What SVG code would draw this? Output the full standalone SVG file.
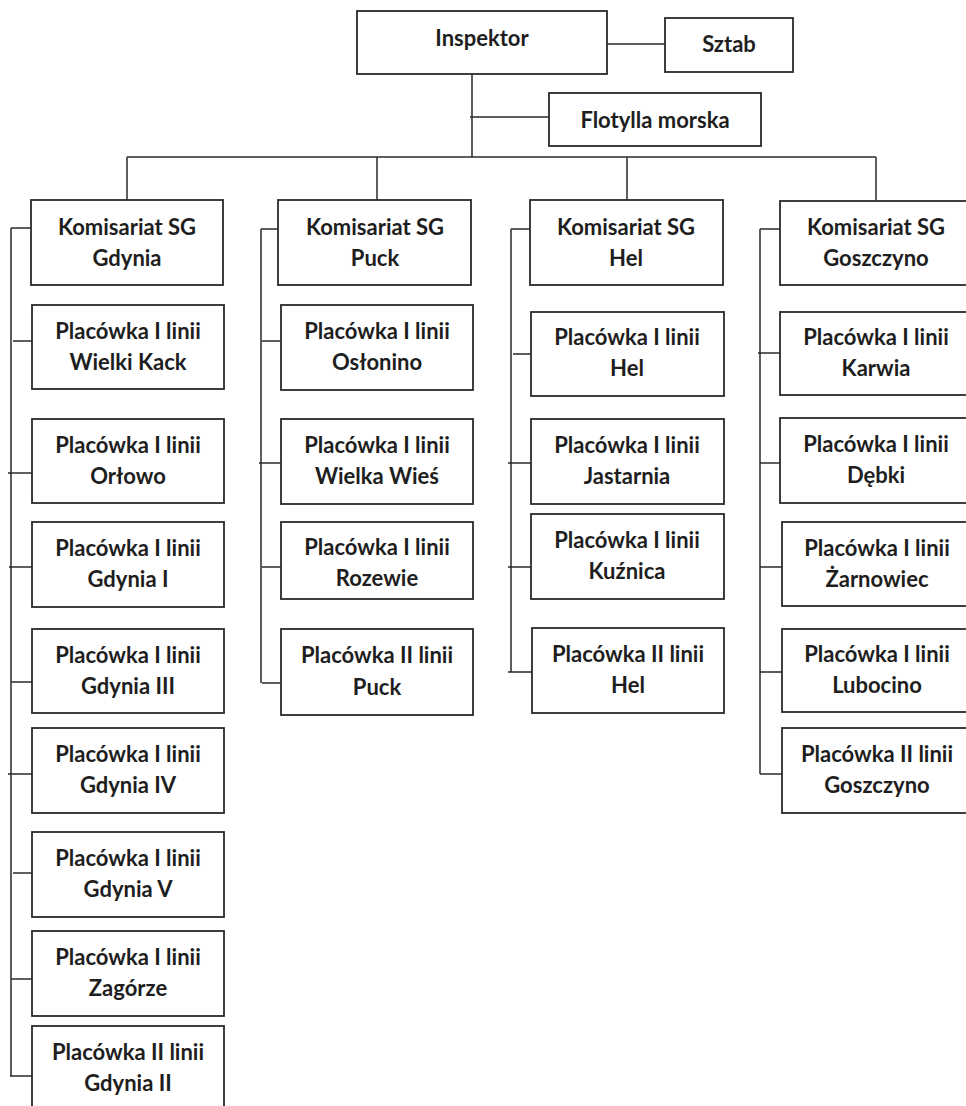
<svg xmlns="http://www.w3.org/2000/svg" width="966" height="1106" viewBox="0 0 966 1106">
<style>
.box{fill:#fff;stroke:#2a2a2a;stroke-width:1.8}
.ln{stroke:#2a2a2a;stroke-width:1.5;fill:none}
.t{font-family:Lato,"Open Sans",sans-serif;font-weight:700;font-size:22px;fill:#1e1e1e;text-anchor:middle}
</style>
<rect width="966" height="1106" fill="#fff"/>
<g id="connectors">
<path class="ln" d="M472 52V157M607 44H665M470 117H549M127 157H876M127 157V200M377 157V200M627 157V200M876 157V200"/>
<path class="ln" d="M11 228V1076M11 228H31M13 341H32M8 473H32M9 567H32M11 682H32M8 774H32M13 873H32M11 979H32M10 1076H32"/>
<path class="ln" d="M261 229V683M261 229H278M262 341H281M259 463H281M262 567H281M262 683H281"/>
<path class="ln" d="M511 229V672M511 229H530M513 354H531M508 463H531M508 567H531M508 672H532"/>
<path class="ln" d="M760 229V774M760 229H780M758 353H780M760 463H780M760 567H782M760 672H782M760 774H782"/>
</g>
<g id="inspektor"><rect class="box" x="357" y="11" width="250" height="63"/><text class="t" x="482" y="46">Inspektor</text></g>
<g id="sztab"><rect class="box" x="665" y="18" width="128" height="54"/><text class="t" x="729" y="52">Sztab</text></g>
<g id="flotylla"><rect class="box" x="549" y="93" width="212" height="53"/><text class="t" x="655" y="128">Flotylla morska</text></g>

<g id="kom-gdynia"><rect class="box" x="31" y="200" width="192" height="85"/><text class="t" x="127" y="235">Komisariat SG</text><text class="t" x="127" y="266">Gdynia</text></g>
<g id="p-wielki-kack"><rect class="box" x="32" y="305" width="192" height="84"/><text class="t" x="128" y="339">Placówka I linii</text><text class="t" x="128" y="370">Wielki Kack</text></g>
<g id="p-orlowo"><rect class="box" x="32" y="419" width="192" height="84"/><text class="t" x="128" y="453">Placówka I linii</text><text class="t" x="128" y="484">Orłowo</text></g>
<g id="p-gdynia-1"><rect class="box" x="32" y="522" width="192" height="85"/><text class="t" x="128" y="556">Placówka I linii</text><text class="t" x="128" y="587">Gdynia I</text></g>
<g id="p-gdynia-3"><rect class="box" x="32" y="629" width="192" height="84"/><text class="t" x="128" y="663">Placówka I linii</text><text class="t" x="128" y="694">Gdynia III</text></g>
<g id="p-gdynia-4"><rect class="box" x="32" y="728" width="192" height="85"/><text class="t" x="128" y="762">Placówka I linii</text><text class="t" x="128" y="793">Gdynia IV</text></g>
<g id="p-gdynia-5"><rect class="box" x="32" y="832" width="192" height="85"/><text class="t" x="128" y="866">Placówka I linii</text><text class="t" x="128" y="897">Gdynia V</text></g>
<g id="p-zagorze"><rect class="box" x="32" y="931" width="192" height="85"/><text class="t" x="128" y="965">Placówka I linii</text><text class="t" x="128" y="996">Zagórze</text></g>
<g id="p2-gdynia-2"><rect class="box" x="32" y="1026" width="192" height="100"/><text class="t" x="128" y="1060">Placówka II linii</text><text class="t" x="128" y="1091">Gdynia II</text></g>

<g id="kom-puck"><rect class="box" x="278" y="200" width="193" height="85"/><text class="t" x="375" y="235">Komisariat SG</text><text class="t" x="375" y="266">Puck</text></g>
<g id="p-oslonino"><rect class="box" x="281" y="305" width="192" height="85"/><text class="t" x="377" y="339">Placówka I linii</text><text class="t" x="377" y="370">Osłonino</text></g>
<g id="p-wielka-wies"><rect class="box" x="281" y="419" width="192" height="85"/><text class="t" x="377" y="453">Placówka I linii</text><text class="t" x="377" y="484">Wielka Wieś</text></g>
<g id="p-rozewie"><rect class="box" x="281" y="522" width="192" height="77"/><text class="t" x="377" y="555">Placówka I linii</text><text class="t" x="377" y="586">Rozewie</text></g>
<g id="p2-puck"><rect class="box" x="281" y="629" width="192" height="86"/><text class="t" x="377" y="663">Placówka II linii</text><text class="t" x="377" y="695">Puck</text></g>

<g id="kom-hel"><rect class="box" x="530" y="200" width="193" height="85"/><text class="t" x="626" y="235">Komisariat SG</text><text class="t" x="626" y="266">Hel</text></g>
<g id="p-hel"><rect class="box" x="531" y="312" width="193" height="84"/><text class="t" x="627" y="345">Placówka I linii</text><text class="t" x="627" y="376">Hel</text></g>
<g id="p-jastarnia"><rect class="box" x="531" y="419" width="193" height="85"/><text class="t" x="627" y="453">Placówka I linii</text><text class="t" x="627" y="484">Jastarnia</text></g>
<g id="p-kuznica"><rect class="box" x="531" y="514" width="193" height="85"/><text class="t" x="627" y="548">Placówka I linii</text><text class="t" x="627" y="579">Kuźnica</text></g>
<g id="p2-hel"><rect class="box" x="532" y="628" width="192" height="85"/><text class="t" x="628" y="662">Placówka II linii</text><text class="t" x="628" y="693">Hel</text></g>

<g id="kom-goszczyno"><rect class="box" x="780" y="201" width="194" height="84"/><text class="t" x="876" y="235">Komisariat SG</text><text class="t" x="876" y="266">Goszczyno</text></g>
<g id="p-karwia"><rect class="box" x="780" y="312" width="194" height="83"/><text class="t" x="876" y="345">Placówka I linii</text><text class="t" x="876" y="376">Karwia</text></g>
<g id="p-debki"><rect class="box" x="780" y="418" width="194" height="85"/><text class="t" x="876" y="452">Placówka I linii</text><text class="t" x="876" y="483">Dębki</text></g>
<g id="p-zarnowiec"><rect class="box" x="782" y="522" width="192" height="84"/><text class="t" x="877" y="556">Placówka I linii</text><text class="t" x="877" y="587">Żarnowiec</text></g>
<g id="p-lubocino"><rect class="box" x="782" y="629" width="192" height="83"/><text class="t" x="877" y="662">Placówka I linii</text><text class="t" x="877" y="693">Lubocino</text></g>
<g id="p2-goszczyno"><rect class="box" x="782" y="728" width="192" height="85"/><text class="t" x="877" y="762">Placówka II linii</text><text class="t" x="877" y="793">Goszczyno</text></g>
</svg>
